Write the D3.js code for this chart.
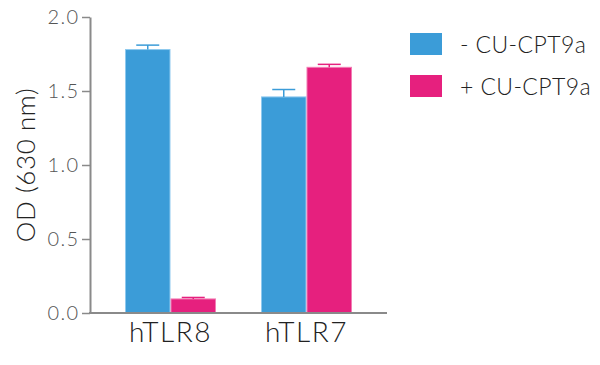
<!DOCTYPE html>
<html>
<head>
<meta charset="utf-8">
<script src="https://cdn.jsdelivr.net/npm/d3@7"></script>
<style>
  body { margin: 0; background: #fff; }
  text { font-family: Lato, "Open Sans", sans-serif; font-weight: 300; }
</style>
</head>
<body>
<svg id="chart"></svg>
<script>
// data
var categories = ["hTLR8", "hTLR7"];
var seriesNames = ["- CU-CPT9a", "+ CU-CPT9a"];
var minusValues = [1.78, 1.46];
var minusErrors = [0.03, 0.05];
var plusValues = [0.095, 1.66];
var plusErrors = [0.01, 0.02];
var yTicks = [0, 0.5, 1.0, 1.5, 2.0];

var colors = ["#3b9cd8", "#e6207e"];
var edgeColors = ["#8ec9ef", "#f27db4"];

var svg = d3.select("#chart").attr("width", 600).attr("height", 365);

// scales
var y = d3.scaleLinear().domain([0, 2]).range([313, 17]);
var x = d3.scaleBand().domain(categories).range([57, 420]).paddingInner(0.331).paddingOuter(0.5);
var xs = d3.scaleBand().domain(seriesNames).range([0, x.bandwidth()]);

// build rows
var rows = [];
categories.forEach(function(c, i) {
	rows.push({cat: c, s: 0, v: minusValues[i], e: minusErrors[i]});
	rows.push({cat: c, s: 1, v: plusValues[i], e: plusErrors[i]});
});

// bars
svg.selectAll("rect.bar")
	.data(rows)
	.enter().append("rect")
	.attr("class", "bar")
	.attr("x", function(d) { return x(d.cat) + xs(seriesNames[d.s]) + 0.5; })
	.attr("y", function(d) { return y(d.v); })
	.attr("width", xs.bandwidth() - 1)
	.attr("height", function(d) { return y(0) - y(d.v); })
	.attr("fill", function(d) { return colors[d.s]; })
	.attr("stroke", function(d) { return edgeColors[d.s]; })
	.attr("stroke-width", 1);

// error bars (upper only)
var err = svg.selectAll("g.err")
	.data(rows)
	.enter().append("g")
	.attr("class", "err")
	.attr("stroke", function(d) { return colors[d.s]; })
	.attr("stroke-width", 1.5);
err.append("line")
	.attr("x1", function(d) { return x(d.cat) + xs(seriesNames[d.s]) + xs.bandwidth() / 2; })
	.attr("x2", function(d) { return x(d.cat) + xs(seriesNames[d.s]) + xs.bandwidth() / 2; })
	.attr("y1", function(d) { return y(d.v); })
	.attr("y2", function(d) { return y(d.v + d.e); });
err.append("line")
	.attr("x1", function(d) { return x(d.cat) + xs(seriesNames[d.s]) + xs.bandwidth() / 2 - 11.5; })
	.attr("x2", function(d) { return x(d.cat) + xs(seriesNames[d.s]) + xs.bandwidth() / 2 + 11.5; })
	.attr("y1", function(d) { return y(d.v + d.e); })
	.attr("y2", function(d) { return y(d.v + d.e); });

// y axis
var yAxis = svg.append("g")
	.attr("transform", "translate(90,0)")
	.call(d3.axisLeft(y).tickValues(yTicks).tickFormat(d3.format(".1f")).tickSize(8).tickSizeOuter(0));
yAxis.select(".domain").attr("stroke", "#8a8a8a").attr("stroke-width", 2);
yAxis.selectAll(".tick line").attr("stroke", "#8a8a8a").attr("stroke-width", 1.5);
yAxis.selectAll(".tick text")
	.attr("fill", "#555")
	.attr("x", -10.5)
	.style("font-size", "20px")
	.style("letter-spacing", "1.4px")
	.style("font-family", "Lato, sans-serif")
	.style("font-weight", 300);

// x axis
var xAxis = svg.append("g")
	.attr("transform", "translate(0,313)")
	.call(d3.axisBottom(x).tickSize(0).tickSizeOuter(0));
xAxis.select(".domain").attr("d", "M89,0H387").attr("stroke", "#8a8a8a").attr("stroke-width", 2);
xAxis.selectAll(".tick text")
	.attr("fill", "#222")
	.attr("dy", 0)
	.attr("y", 29)
	.style("font-size", "28px")
	.style("letter-spacing", "1.5px")
	.style("font-family", "Lato, sans-serif")
	.style("font-weight", 300);

// y label
svg.append("text")
	.attr("transform", "translate(35,165) rotate(-90)")
	.attr("text-anchor", "middle")
	.attr("fill", "#222")
	.style("font-size", "26px")
	.style("letter-spacing", "0.6px")
	.text("OD (630 nm)");

// legend
var legend = svg.selectAll("g.legend")
	.data(seriesNames)
	.enter().append("g")
	.attr("class", "legend")
	.attr("transform", function(d, i) { return "translate(410," + (33 + i * 42) + ")"; });
legend.append("rect")
	.attr("width", 32)
	.attr("height", 22)
	.attr("fill", function(d, i) { return colors[i]; });
legend.append("text")
	.attr("x", 50)
	.attr("y", 20)
	.attr("fill", "#222")
	.style("font-size", "23px")
	.style("letter-spacing", "0.4px")
	.text(function(d) { return d; });
</script>
</body>
</html>
